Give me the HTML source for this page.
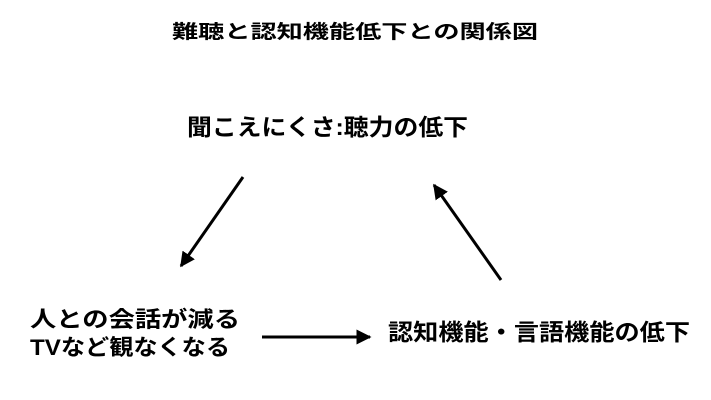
<!DOCTYPE html>
<html><head><meta charset="utf-8"><style>body{margin:0;background:#fff}svg{display:block}</style></head>
<body>
<svg width="711" height="400" xmlns="http://www.w3.org/2000/svg" font-family="Liberation Sans, Noto Sans CJK JP, sans-serif" font-weight="bold" fill="#000">
<defs><marker id="a" viewBox="0 0 10 10" refX="9" refY="5" markerWidth="5" markerHeight="5" orient="auto"><path d="M0,0L10,5L0,10z" fill="#000"/></marker></defs>
<text x="172" y="38" font-size="19" textLength="366" lengthAdjust="spacingAndGlyphs">難聴と認知機能低下との関係図</text>
<text x="187" y="135" font-size="23" textLength="281" lengthAdjust="spacingAndGlyphs">聞こえにくさ:聴力の低下</text>
<text x="30" y="327" font-size="22" textLength="210" lengthAdjust="spacingAndGlyphs">人との会話が減る</text>
<text x="30" y="355" font-size="22" textLength="200" lengthAdjust="spacingAndGlyphs">TVなど観なくなる</text>
<text x="388" y="340" font-size="23" textLength="302" lengthAdjust="spacingAndGlyphs">認知機能・言語機能の低下</text>
<g stroke="#000" stroke-width="3" fill="none">
<line x1="243" y1="177" x2="181" y2="266" marker-end="url(#a)"/>
<line x1="501" y1="280" x2="434" y2="185" marker-end="url(#a)"/>
<line x1="262" y1="337" x2="370" y2="337" marker-end="url(#a)"/>
</g>
</svg>
</body></html>
